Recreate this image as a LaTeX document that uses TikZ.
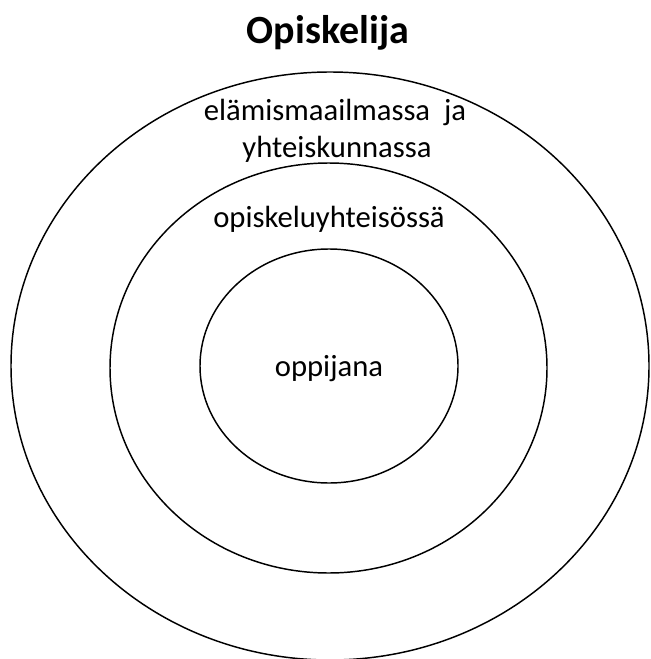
\documentclass[tikz,border=0pt]{standalone}
\usepackage{fontspec}
\setmainfont{Carlito}
\begin{document}
\begin{tikzpicture}[x=0.75pt,y=-0.75pt,
  ring/.style={draw=black,line width=1.1pt},
  lbl/.style={font=\fontsize{23}{28}\selectfont,anchor=base,inner sep=0pt},
  ttl/.style={font=\fontsize{30}{36}\selectfont\bfseries,anchor=base,inner sep=0pt}]
\useasboundingbox (0,0) rectangle (650,659);
\draw[ring] (330,366) ellipse [x radius=319, y radius=294];
\draw[ring] (328.5,368) ellipse [x radius=218.5, y radius=205];
\draw[ring] (329,366) ellipse [x radius=129, y radius=117];
\node[ttl] (title) at (328,44) {Opiskelija};
\node[lbl] (outer1) at (335,121) {elämismaailmassa\ \ ja};
\node[lbl] (outer2) at (337,158) {yhteiskunnassa};
\node[lbl] (middle) at (329,227) {opiskeluyhteisössä};
\node[lbl] (inner) at (329,376) {oppijana};
\end{tikzpicture}
\end{document}
